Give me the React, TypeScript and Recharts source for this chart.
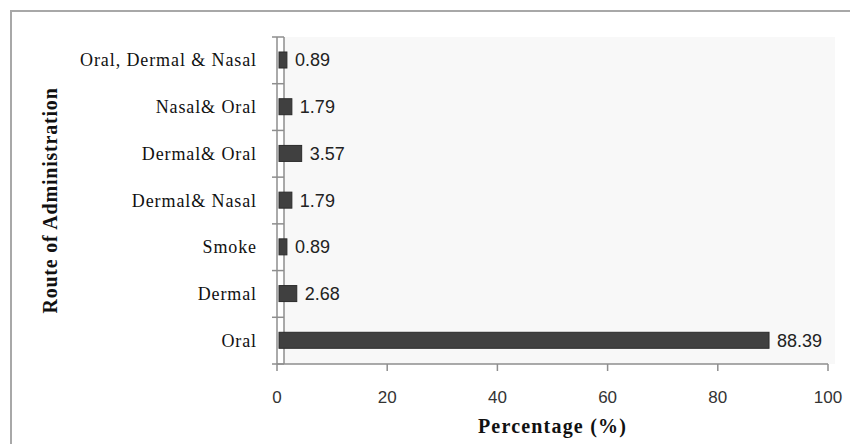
import React from "react";
import {
  BarChart,
  Bar,
  XAxis,
  YAxis,
  LabelList,
  ReferenceArea,
} from "recharts";

const routes = [
  "Oral, Dermal & Nasal",
  "Nasal& Oral",
  "Dermal& Oral",
  "Dermal& Nasal",
  "Smoke",
  "Dermal",
  "Oral",
];
const percentages = [0.89, 1.79, 3.57, 1.79, 0.89, 2.68, 88.39];
const xTicks = [0, 20, 40, 60, 80, 100];

const data = routes.map((route, i) => ({ route, value: percentages[i] }));

const W = 858;
const H = 444;
const M_TOP = 37;
const M_RIGHT = 30;
const Y_W = 277;
const X_H = 80;
const AXIS = "#8e8e8e";
const BAND_HALF = (H - M_TOP - X_H) / routes.length / 2;
const SERIF = "'Liberation Serif', 'Times New Roman', serif";
const SANS = "'Liberation Sans', Arial, sans-serif";

const CategoryTick = (props: any) => {
  const { x, y, payload, index, visibleTicksCount } = props;
  const half = payload && typeof payload.offset === "number" && payload.offset > 0 ? payload.offset : BAND_HALF;
  const last = index === (visibleTicksCount ?? routes.length) - 1;
  return (
    <g>
      <line x1={x - 5} x2={x + 7} y1={y - half} y2={y - half} stroke={AXIS} strokeWidth={1.5} />
      {last && <line x1={x - 5} x2={x + 7} y1={y + half} y2={y + half} stroke={AXIS} strokeWidth={1.5} />}
      <text
        x={x - 20}
        y={y}
        textAnchor="end"
        dominantBaseline="central"
        fontFamily={SERIF}
        fontSize={18}
        letterSpacing={0.9}
        fill="#111"
      >
        {payload.value}
      </text>
    </g>
  );
};

const BarShape = (props: any) => {
  const { x, y, width, height } = props;
  return (
    <rect
      x={x + 2}
      y={y}
      width={Math.max(0, width + 3)}
      height={height}
      fill="#404040"
      stroke="#2b2b2b"
      strokeWidth={1}
    />
  );
};

const WallShape = (props: any) => {
  const { x, y, width, height } = props;
  return (
    <g>
      <rect x={x} y={y} width={width} height={height} fill="#f8f8f8" stroke="none" />
      <line x1={x} x2={x} y1={y} y2={y + height} stroke={AXIS} strokeWidth={1.5} />
    </g>
  );
};

const YTitle = (props: any) => {
  const vb = props.viewBox || {};
  const cy = (vb.y ?? M_TOP) + (vb.height ?? H - M_TOP - X_H) / 2;
  const cx = 57;
  return (
    <text
      x={cx}
      y={cy}
      transform={`rotate(-90 ${cx} ${cy})`}
      textAnchor="middle"
      fontFamily={SERIF}
      fontWeight="bold"
      fontSize={20}
      letterSpacing={0.8}
      fill="#111"
    >
      Route of Administration
    </text>
  );
};

const XTitle = (props: any) => {
  const vb = props.viewBox || {};
  const cx = (vb.x ?? Y_W) + (vb.width ?? W - Y_W - M_RIGHT) / 2;
  return (
    <text
      x={cx}
      y={433}
      textAnchor="middle"
      fontFamily={SERIF}
      fontWeight="bold"
      fontSize={20}
      letterSpacing={1.2}
      fill="#111"
    >
      Percentage (%)
    </text>
  );
};

export default function App() {
  return (
    <div
      style={{
        position: "relative",
        width: W,
        height: H,
        margin: "-8px 0 0 -8px",
        overflow: "hidden",
        background: "#fff",
      }}
    >
      <div
        style={{
          position: "absolute",
          left: 10,
          top: 10,
          width: W + 40,
          height: H + 40,
          border: "2px solid #a8a8a8",
          boxSizing: "border-box",
        }}
      />
      <div style={{ position: "absolute", left: 0, top: 0 }}>
        <BarChart
          width={W}
          height={H}
          data={data}
          layout="vertical"
          margin={{ top: M_TOP, right: M_RIGHT, bottom: 0, left: 0 }}
          barCategoryGap={0}
        >
          <ReferenceArea
            x1={1.27}
            x2={101.27}
            ifOverflow="visible"
            shape={<WallShape />}
          />
          <XAxis
            type="number"
            domain={[0, 100]}
            ticks={xTicks}
            height={X_H}
            tickSize={7}
            tickMargin={20}
            axisLine={{ stroke: AXIS, strokeWidth: 1.5 }}
            tickLine={{ stroke: AXIS, strokeWidth: 1.5 }}
            tick={{ fontFamily: SANS, fontSize: 17, fill: "#333" }}
            label={<XTitle />}
          />
          <YAxis
            type="category"
            dataKey="route"
            width={Y_W}
            tickSize={0}
            tickMargin={0}
            tickLine={false}
            axisLine={{ stroke: AXIS, strokeWidth: 1.5 }}
            tick={<CategoryTick />}
            interval={0}
            label={<YTitle />}
          />
          <Bar
            dataKey="value"
            barSize={16}
            shape={<BarShape />}
            isAnimationActive={false}
          >
            <LabelList
              dataKey="value"
              position="right"
              offset={13}
              formatter={(v: any) => Number(v).toFixed(2)}
              style={{ fontFamily: SANS, fontSize: 18, fill: "#222" }}
            />
          </Bar>
        </BarChart>
      </div>
    </div>
  );
}
